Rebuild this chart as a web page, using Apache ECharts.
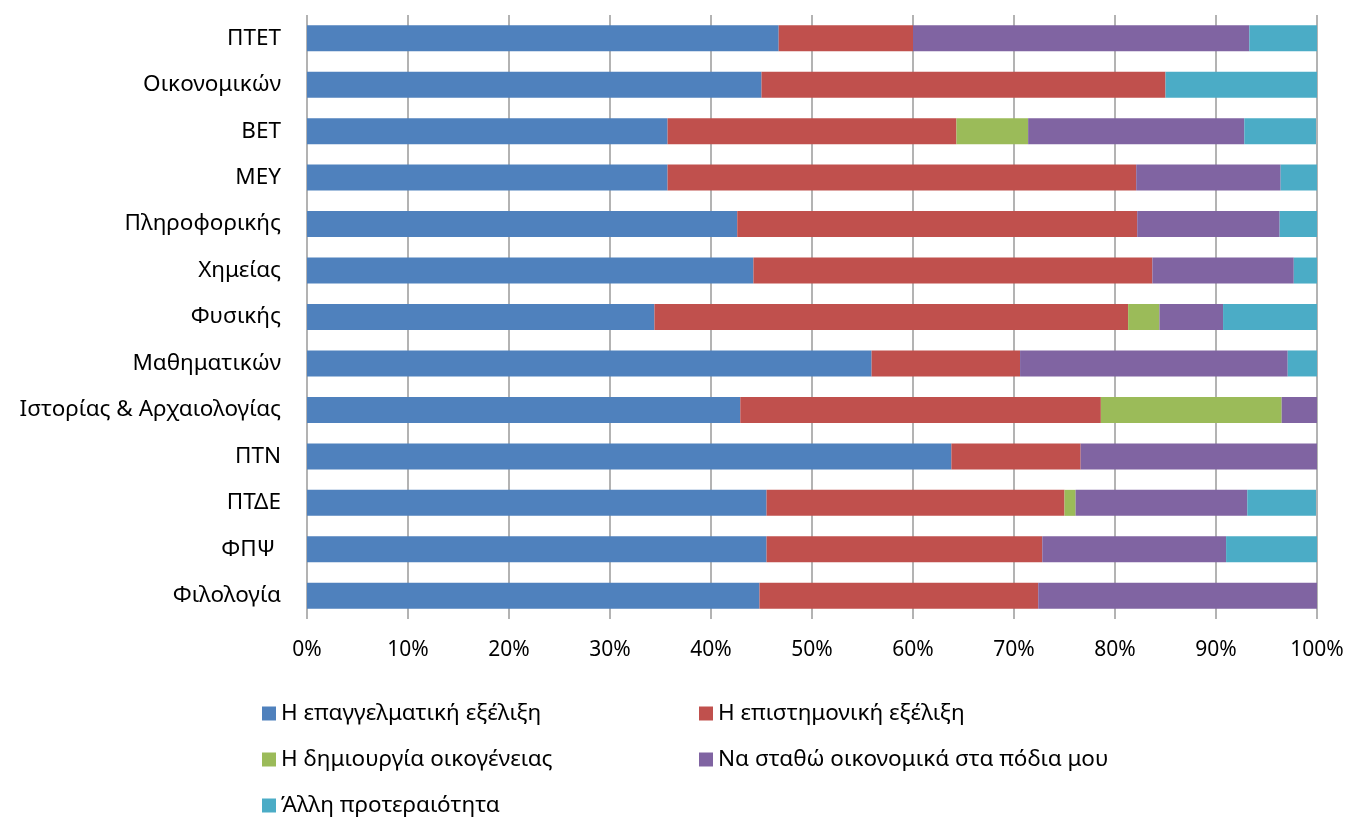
<!DOCTYPE html>
<html>
<head>
<meta charset="utf-8">
<script src="https://cdn.jsdelivr.net/npm/echarts@6/dist/echarts.min.js"></script>
<style>
  html, body { margin: 0; padding: 0; background: #fff; }
  #chart { width: 1349px; height: 818px; }
</style>
</head>
<body>
<div id="chart"></div>
<script>
// κατηγορίες (από κάτω προς τα πάνω, όπως τις θέλει ο κατηγορικός άξονας)
const categories = ['Φιλολογία', 'ΦΠΨ ', 'ΠΤΔΕ', 'ΠΤΝ', 'Ιστορίας & Αρχαιολογίας', 'Μαθηματικών',
  'Φυσικής', 'Χημείας', 'Πληροφορικής', 'ΜΕΥ', 'ΒΕΤ', 'Οικονομικών', 'ΠΤΕΤ']

// ποσοστά ανά σειρά (%)
const epaggelmatiki = [44.8, 45.5, 45.5, 63.8, 42.9, 55.9, 34.4, 44.2, 42.6, 35.7, 35.7, 45.0, 46.7]
const epistimoniki  = [27.6, 27.3, 29.5, 12.8, 35.7, 14.7, 46.9, 39.5, 39.6, 46.4, 28.6, 40.0, 13.3]
const oikogeneia    = [0, 0, 1.1, 0, 17.9, 0, 3.1, 0, 0, 0, 7.1, 0, 0]
const oikonomika    = [27.6, 18.2, 17.0, 23.4, 3.6, 26.5, 6.3, 14.0, 14.1, 14.3, 21.4, 0, 33.3]
const alli          = [0, 9.1, 6.8, 0, 0, 2.9, 9.4, 2.3, 3.7, 3.6, 7.1, 15.0, 6.7]

const seriesNames = ['Η επαγγελματική εξέλιξη', 'Η επιστημονική εξέλιξη', 'Η δημιουργία οικογένειας',
  'Να σταθώ οικονομικά στα πόδια μου', 'Άλλη προτεραιότητα']
const seriesData = [epaggelmatiki, epistimoniki, oikogeneia, oikonomika, alli]
const colors = ['#4f81bd', '#c0504d', '#9bbb59', '#8064a2', '#4bacc6']

const xTicks = ['0%', '10%', '20%', '30%', '40%', '50%', '60%', '70%', '80%', '90%', '100%']

const font = 'Noto Sans'
const chart = echarts.init(document.getElementById('chart'))

// θέσεις υπομνήματος: δύο στήλες, τρεις γραμμές
const legendPos = [[257, 697], [694, 697], [257, 743], [694, 743], [257, 789]]

chart.setOption({
  animation: false,
  color: colors,
  grid: { left: 307, right: 32, top: 15, bottom: 199, containLabel: false },
  xAxis: {
    type: 'value', min: 0, max: 100, interval: 10,
    axisLine: { show: false },
    axisTick: { show: false },
    splitLine: { lineStyle: { color: '#9a9a9a', width: 1.5 } },
    axisLabel: {
      margin: 21, fontFamily: font, fontSize: 21, color: '#000',
      formatter: v => xTicks[Math.round(v / 10)]
    }
  },
  yAxis: {
    type: 'category', data: categories,
    axisLine: { show: false },
    axisTick: { show: false },
    axisLabel: { margin: 26, fontFamily: font, fontSize: 22.5, color: '#000' }
  },
  legend: seriesNames.map((n, i) => ({
    data: [n], left: legendPos[i][0], top: legendPos[i][1],
    icon: 'rect', itemWidth: 14, itemHeight: 14, itemGap: 6,
    textStyle: { fontFamily: font, fontSize: 22.5, color: '#000' }
  })),
  series: seriesData.map((d, i) => ({
    name: seriesNames[i], type: 'bar', stack: 'total',
    barWidth: 26, data: d,
    itemStyle: { color: colors[i] }
  }))
})
</script>
</body>
</html>
